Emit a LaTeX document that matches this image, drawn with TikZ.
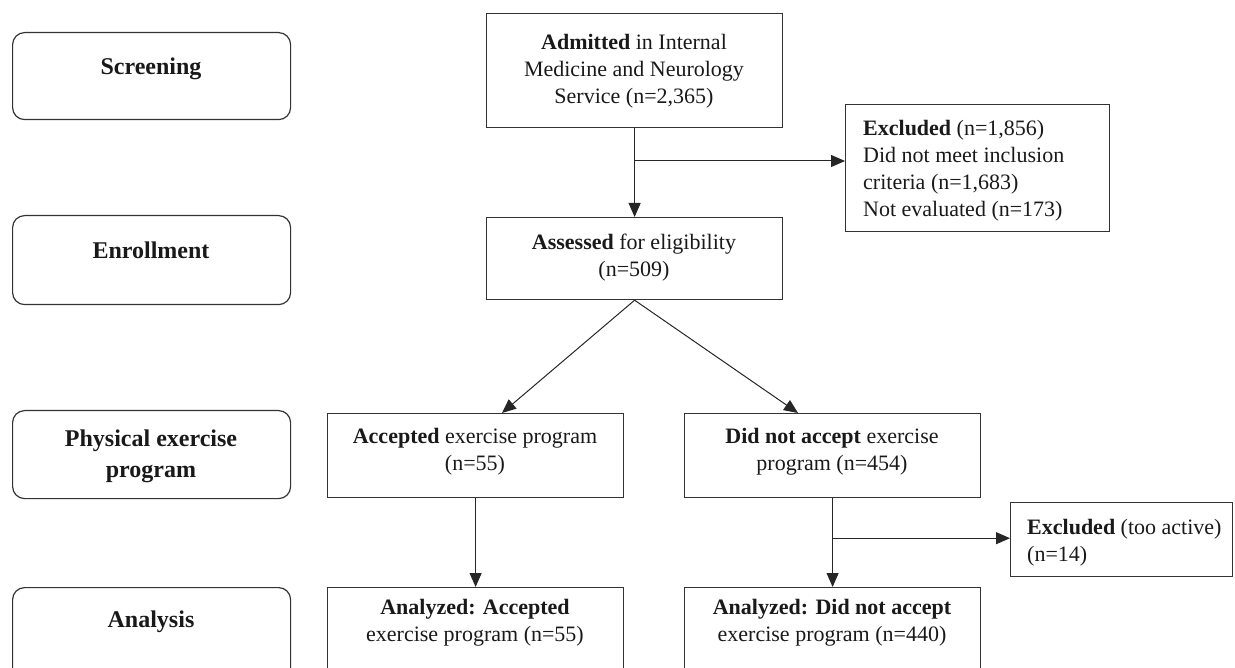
\documentclass[tikz,border=0pt]{standalone}
\usepackage{fontspec}
\setmainfont{Liberation Serif}
\usetikzlibrary{arrows.meta,calc}
\begin{document}
\begin{tikzpicture}[x=1pt,y=-1pt,
 box/.style={draw=black!80, line width=1.2pt, inner sep=0pt, anchor=north west},
 stage/.style={box, rounded corners=12pt},
 txt/.style={font=\fontsize{22}{27}\selectfont, align=center, inner sep=0pt, anchor=north, text=black!90},
 ltxt/.style={txt, align=left, anchor=north west},
 stxt/.style={font=\fontsize{24}{31}\selectfont\bfseries, align=center, inner sep=0pt, anchor=base, text=black!90},
 conn/.style={draw=black!85, line width=1pt, -{Triangle[length=14pt,width=12pt]}},
 plain/.style={draw=black!85, line width=1pt}]
\useasboundingbox (0,0) rectangle (1235,668);
\clip (0,0) rectangle (1235,668);

% stage boxes (left column)
\node[stage, minimum width=278pt, minimum height=87pt] (scr) at (12,32) {};
\node[stxt] (scrT) at (151,75) {Screening};
\node[stage, minimum width=278pt, minimum height=89pt] (enr) at (12,215) {};
\node[stxt] (enrT) at (151,259) {Enrollment};
\node[stage, minimum width=278pt, minimum height=88pt] (phy) at (12,410) {};
\node[stxt, anchor=north] (phyT) at (151,430) {Physical exercise\\program};
\node[stage, minimum width=278pt, minimum height=110pt] (ana) at (12,587) {};
\node[stxt] (anaT) at (151,627) {Analysis};

% flow boxes
\node[box, minimum width=296pt, minimum height=114pt] (adm) at (486,13) {};
\node[txt] (admT) at (634,34) {\textbf{Admitted} in Internal\\Medicine and Neurology\\Service (n=2,365)};

\node[box, minimum width=264pt, minimum height=127pt] (ex1) at (845,104) {};
\node[ltxt] (ex1T) at (863,120) {\textbf{Excluded} (n=1,856)\\Did not meet inclusion\\criteria (n=1,683)\\Not evaluated (n=173)};

\node[box, minimum width=296pt, minimum height=82pt] (ass) at (486,217) {};
\node[txt] (assT) at (634,234) {\textbf{Assessed} for eligibility\\(n=509)};

\node[box, minimum width=296pt, minimum height=84pt] (acc) at (327,413) {};
\node[txt] (accT) at (475,428) {\textbf{Accepted} exercise program\\(n=55)};

\node[box, minimum width=296pt, minimum height=84pt] (dna) at (684,413) {};
\node[txt] (dnaT) at (832,428) {\textbf{Did not accept} exercise\\program (n=454)};

\node[box, minimum width=222pt, minimum height=74pt] (ex2) at (1010,502) {};
\node[ltxt] (ex2T) at (1027,519) {\textbf{Excluded} (too active)\\(n=14)};

\node[box, minimum width=296pt, minimum height=110pt] (an1) at (327,587) {};
\node[txt] (an1T) at (475,599) {\textbf{Analyzed: Accepted}\\exercise program (n=55)};

\node[box, minimum width=296pt, minimum height=110pt] (an2) at (684,587) {};
\node[txt] (an2T) at (832,599) {\textbf{Analyzed: Did not accept}\\exercise program (n=440)};

% connectors
\draw[conn] (adm.south) -- (ass.north);
\coordinate (b1) at (634,161);
\draw[conn] (b1) -- (b1 -| ex1.west);

\coordinate (t1) at ($(acc.north west)+(175,0)$);
\coordinate (t2) at ($(dna.north west)+(114,0)$);
\draw[conn] (ass.south) -- (t1);
\draw[conn] (ass.south) -- (t2);

\draw[conn] (acc.south) -- (an1.north);
\draw[conn] (dna.south) -- (an2.north);
\coordinate (b2) at ($(dna.south)+(0,40)$);
\draw[conn] (b2) -- (b2 -| ex2.west);
\end{tikzpicture}
\end{document}
